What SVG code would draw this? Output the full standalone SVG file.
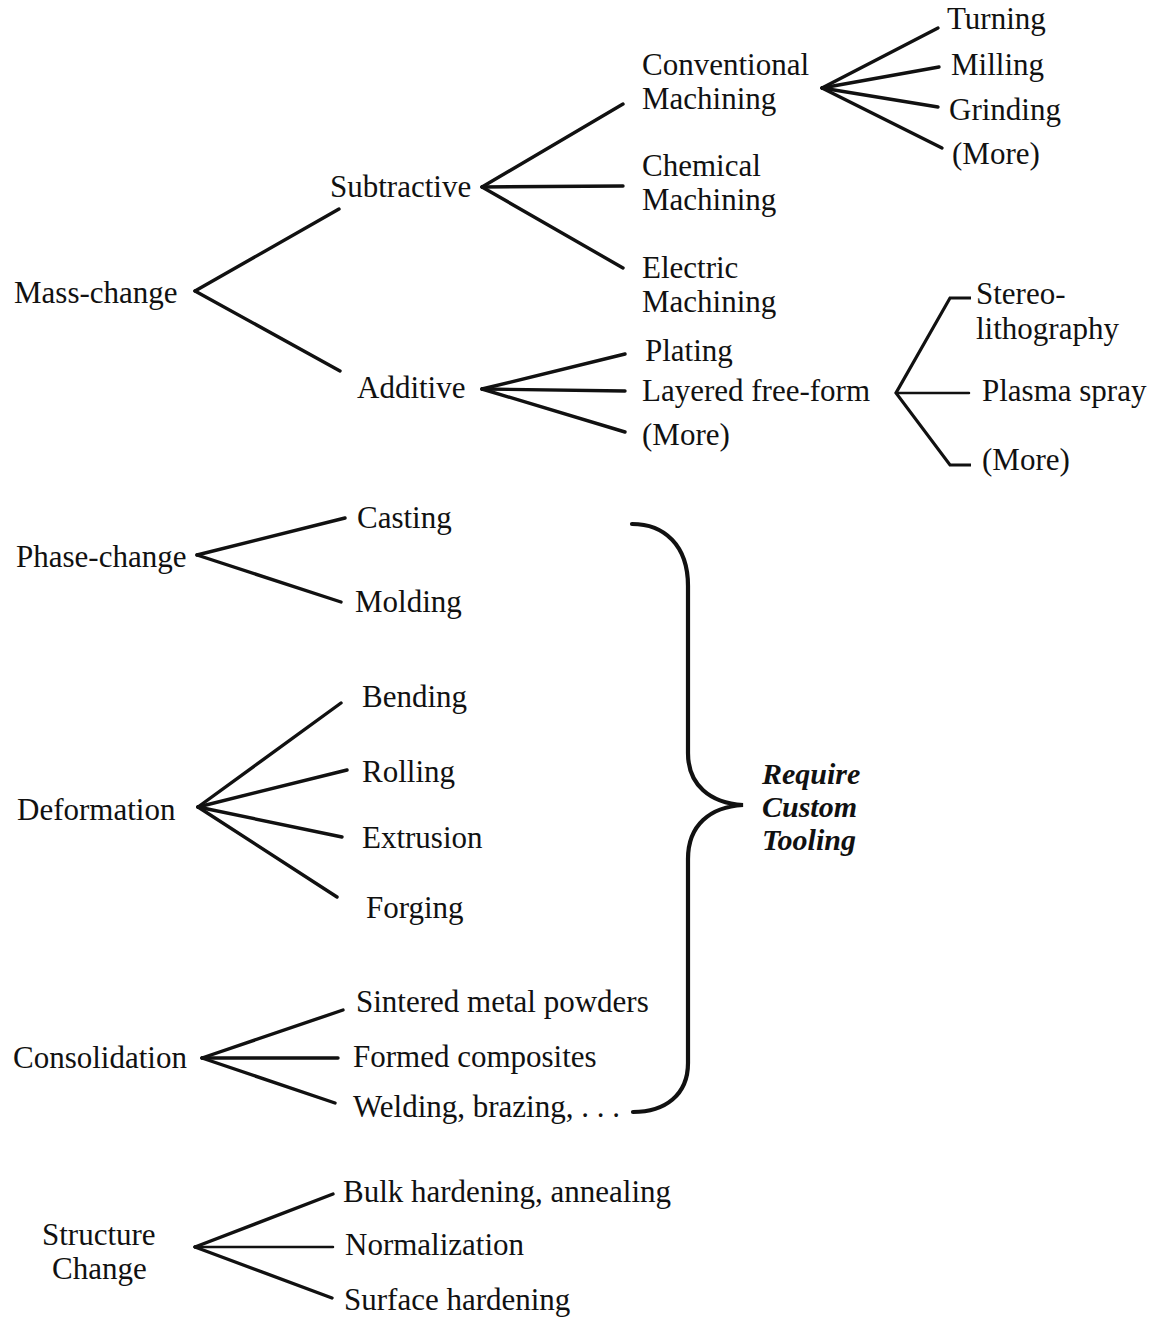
<svg xmlns="http://www.w3.org/2000/svg" width="1151" height="1317" viewBox="0 0 1151 1317">
<style>
text{font-family:"Liberation Serif","Times New Roman",serif;font-size:31px;fill:#111}
.b{font-weight:bold;font-style:italic;font-size:30px}
.c line{stroke:#111;stroke-width:3.4;stroke-linecap:round}
.c .t{stroke-width:2.5}
.c path{fill:none;stroke:#111;stroke-width:3.2;stroke-linejoin:miter}
.c .brace{stroke-width:4.2;stroke-linecap:round}
</style>
<rect width="1151" height="1317" fill="#fff"/>
<g class="c" id="connectors">
<line x1="195" y1="291" x2="339" y2="209"/>
<line x1="195" y1="291" x2="340" y2="371"/>
<line x1="482" y1="187" x2="623" y2="104"/>
<line x1="482" y1="187" x2="623" y2="186"/>
<line x1="482" y1="187" x2="623" y2="268"/>
<line x1="822" y1="88" x2="938" y2="28"/>
<line x1="822" y1="88" x2="939" y2="67"/>
<line x1="822" y1="88" x2="938" y2="107"/>
<line x1="822" y1="88" x2="942" y2="148"/>
<line x1="482" y1="389" x2="625" y2="354"/>
<line x1="482" y1="389" x2="625" y2="391"/>
<line x1="482" y1="389" x2="625" y2="432"/>
<path d="M971,298 L950,298 L896,393 L950,465 L971,465"/>
<line class="t" x1="898" y1="393" x2="969" y2="393"/>
<line x1="197" y1="555" x2="345" y2="518"/>
<line x1="197" y1="555" x2="341" y2="602"/>
<line x1="198" y1="807" x2="341" y2="703"/>
<line x1="198" y1="807" x2="347" y2="770"/>
<line x1="198" y1="807" x2="342" y2="837"/>
<line x1="198" y1="807" x2="337" y2="897"/>
<line x1="202" y1="1058" x2="343" y2="1010"/>
<line x1="202" y1="1058" x2="338" y2="1058"/>
<line x1="202" y1="1058" x2="335" y2="1103"/>
<line x1="195" y1="1247" x2="333" y2="1194"/>
<line class="t" x1="195" y1="1247" x2="333" y2="1247"/>
<line x1="195" y1="1247" x2="332" y2="1298"/>
<path class="brace" d="M632,524 C664,524 688,545 688,586 L688,753 C688,785 710,803 743,805 C710,807 688,825 688,859 L688,1063 C688,1095 665,1112 633,1112"/>
</g>
<g id="mass-change"><text x="14" y="303">Mass-change</text></g>
<g id="subtractive"><text x="330" y="197">Subtractive</text></g>
<g id="additive"><text x="357" y="398">Additive</text></g>
<g id="conventional"><text x="642" y="75">Conventional</text><text x="642" y="109">Machining</text></g>
<g id="chemical"><text x="642" y="176">Chemical</text><text x="642" y="210">Machining</text></g>
<g id="electric"><text x="642" y="278">Electric</text><text x="642" y="312">Machining</text></g>
<g id="turning"><text x="947" y="29">Turning</text></g>
<g id="milling"><text x="951" y="75">Milling</text></g>
<g id="grinding"><text x="949" y="120">Grinding</text></g>
<g id="more1"><text x="952" y="164">(More)</text></g>
<g id="plating"><text x="645" y="361">Plating</text></g>
<g id="layered"><text x="642" y="401">Layered free-form</text></g>
<g id="more2"><text x="642" y="445">(More)</text></g>
<g id="stereo"><text x="976" y="304">Stereo-</text><text x="976" y="339">lithography</text></g>
<g id="plasma"><text x="982" y="401">Plasma spray</text></g>
<g id="more3"><text x="982" y="470">(More)</text></g>
<g id="phase-change"><text x="16" y="567">Phase-change</text></g>
<g id="casting"><text x="357" y="528">Casting</text></g>
<g id="molding"><text x="355" y="612">Molding</text></g>
<g id="deformation"><text x="17" y="820">Deformation</text></g>
<g id="bending"><text x="362" y="707">Bending</text></g>
<g id="rolling"><text x="362" y="782">Rolling</text></g>
<g id="extrusion"><text x="362" y="848">Extrusion</text></g>
<g id="forging"><text x="366" y="918">Forging</text></g>
<g id="consolidation"><text x="13" y="1068">Consolidation</text></g>
<g id="sintered"><text x="356" y="1012">Sintered metal powders</text></g>
<g id="formed"><text x="353" y="1067">Formed composites</text></g>
<g id="welding"><text x="353" y="1117">Welding, brazing, . . .</text></g>
<g id="structure-change"><text x="42" y="1245">Structure</text><text x="52" y="1279">Change</text></g>
<g id="bulk"><text x="343" y="1202">Bulk hardening, annealing</text></g>
<g id="normalization"><text x="345" y="1255">Normalization</text></g>
<g id="surface"><text x="344" y="1310">Surface hardening</text></g>
<g id="custom-tooling"><text class="b" x="762" y="784">Require</text><text class="b" x="762" y="817">Custom</text><text class="b" x="762" y="850">Tooling</text></g>
</svg>
